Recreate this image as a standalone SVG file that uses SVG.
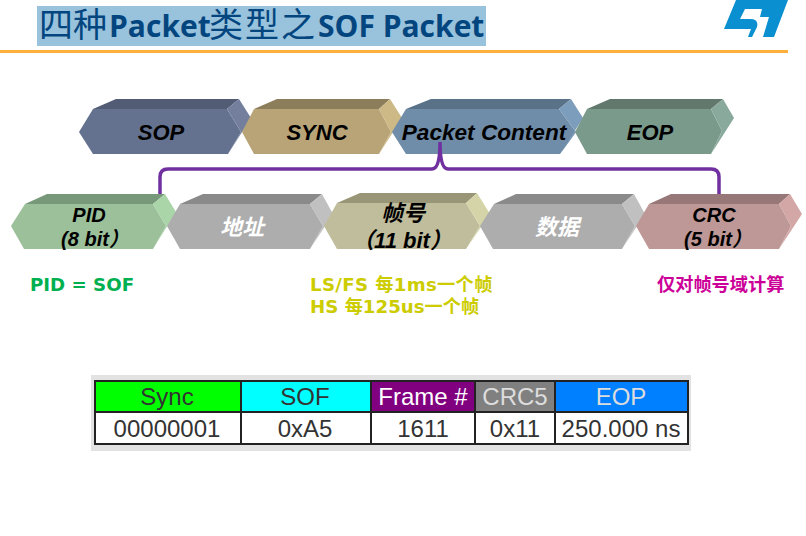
<svg xmlns="http://www.w3.org/2000/svg" width="806" height="536" viewBox="0 0 806 536">
<style>
text{font-family:"Liberation Sans","Noto Sans CJK SC",sans-serif}
.l{font-weight:bold;font-style:italic;text-anchor:middle;fill:#000}
.t{font-size:22px}.b{font-size:20px}.f{font-size:22px}
.w{fill:#fff;font-size:22px}
.n{font-family:"DejaVu Sans","Noto Sans CJK SC",sans-serif;font-weight:bold;font-size:18.2px}
.c{font-size:24px;text-anchor:middle;fill:#333}
.ttl{fill:#03467f;font-size:34px}
.ttb{font-family:"Open Sans","Noto Sans CJK SC",sans-serif;font-weight:bold;font-size:30px}
.cell{stroke:#222;stroke-width:2}
</style>
<g id="header">
<rect x="37" y="6" width="449" height="40" fill="#99c2dc"/>
<text class="ttl" x="39" y="37">四种<tspan class="ttb" x="109">Packet</tspan><tspan x="209" letter-spacing="2">类型之</tspan><tspan class="ttb" x="318">SOF Packet</tspan></text>
<rect x="0" y="50" width="788" height="3" fill="#fdb03c"/>
<path d="M736,0H788L774,37H763L769,17H760L762,9H745L740,19H750Q759,19 757,27L752,37H748L751,29H724Z" fill="#0a8fd0"/>
</g>
<g id="sop"><polygon points="79,132 93,109 227,109 241,132 228,154 93,154" fill="#64728f"/><polygon points="93,109 116,99 239,99 227,109" fill="#535c75"/><polygon points="227,109 239,99 251,118 228,154 241,132" fill="#737f9d"/><text class="l t" x="161" y="140">SOP</text></g>
<g id="sync"><polygon points="242,132 254,109 379,109 391,132 379,154 254,154" fill="#b8a477"/><polygon points="254,109 277,99 390,99 379,109" fill="#8c7e5b"/><polygon points="379,109 390,99 402,118 379,154 391,132" fill="#cdb985"/><text class="l t" x="317" y="140">SYNC</text></g>
<g id="packet-content"><polygon points="392,132 406,109 559,109 576,132 560,154 406,154" fill="#6f8ca8"/><polygon points="406,109 431,99 571,99 559,109" fill="#5a7288"/><polygon points="559,109 571,99 583,118 560,154 576,132" fill="#7c9dbc"/><text class="l" style="font-size:22.6px" x="484" y="140">Packet Content</text></g>
<g id="eop"><polygon points="575,132 587,109 711,109 722,131 711,154 587,154" fill="#7a9a8c"/><polygon points="587,109 610,99 723,99 711,109" fill="#62786c"/><polygon points="711,109 723,99 734,118 711,154 722,131" fill="#88a99b"/><text class="l t" x="650" y="140">EOP</text></g>
<g id="pid"><polygon points="11,226 25,204 153,204 166,226 153,249 24,249" fill="#9bc09a"/><polygon points="25,204 47,194 165,194 153,204" fill="#78987a"/><polygon points="153,204 165,194 176,212 153,249 166,226" fill="#aad5a9"/><text class="l b" x="89" y="222">PID</text><text class="l b" x="95" y="246">(8 bit）</text></g>
<g id="addr"><polygon points="167,226 180,204 310,204 323,226 310,249 180,249" fill="#adadad"/><polygon points="180,204 203,194 322,194 310,204" fill="#8a8a8a"/><polygon points="310,204 322,194 333,214 310,249 323,226" fill="#c0c0c0"/><text class="l w" x="242" y="235">地址</text></g>
<g id="frame"><polygon points="324,226 337,203 466,203 480,226 466,249 337,249" fill="#bfbd9b"/><polygon points="337,203 360,193 477,193 466,203" fill="#999678"/><polygon points="466,203 477,193 490,214 466,249 480,226" fill="#d5d4a8"/><text class="l f" x="403" y="221">帧号</text><text class="l f" x="402" y="248">（11 bit）</text></g>
<g id="data"><polygon points="480,226 494,204 622,204 635,226 622,249 493,249" fill="#adadad"/><polygon points="494,204 516,194 634,194 622,204" fill="#8a8a8a"/><polygon points="622,204 634,194 645,214 622,249 635,226" fill="#c0c0c0"/><text class="l w" x="557" y="235">数据</text></g>
<g id="crc"><polygon points="636,226 649,204 779,204 791,226 779,249 649,249" fill="#be9896"/><polygon points="649,204 671,194 790,194 779,204" fill="#977777"/><polygon points="779,204 790,194 802,214 779,249 791,226" fill="#d3a7a6"/><text class="l b" x="714" y="222">CRC</text><text class="l b" x="718" y="246">(5 bit）</text></g>
<g id="connectors"><path d="M160,194V177Q160,169 168,169H432Q440,169 440,142Q440,169 448,169H711Q719,169 719,177V194" fill="none" stroke="#7030a0" stroke-width="3.5"/></g>
<g id="notes">
<text class="n" x="30" y="291" fill="#00b050">PID = SOF</text>
<text class="n" x="310" y="291" fill="#cccc00" letter-spacing=".33">LS/FS 每1ms一个帧</text>
<text class="n" x="310" y="313" fill="#cccc00">HS 每125us一个帧</text>
<text class="n" x="657" y="291" fill="#cc0099">仅对帧号域计算</text>
</g>
<g id="table">
<rect x="91" y="375" width="600" height="76" fill="#e2e2e2"/>
<rect class="cell" x="95" y="381" width="146" height="31" fill="#00ff00"/>
<rect class="cell" x="241" y="381" width="130" height="31" fill="#00ffff"/>
<rect class="cell" x="371" y="381" width="104" height="31" fill="#800080"/>
<rect class="cell" x="475" y="381" width="80" height="31" fill="#808080"/>
<rect class="cell" x="555" y="381" width="133" height="31" fill="#0080ff"/>
<rect class="cell" x="95" y="412" width="146" height="32" fill="#fff"/>
<rect class="cell" x="241" y="412" width="130" height="32" fill="#fff"/>
<rect class="cell" x="371" y="412" width="104" height="32" fill="#fff"/>
<rect class="cell" x="475" y="412" width="80" height="32" fill="#fff"/>
<rect class="cell" x="555" y="412" width="133" height="32" fill="#fff"/>
<text class="c" x="167" y="405">Sync</text><text class="c" x="305" y="405">SOF</text><text class="c" x="423" y="405" style="fill:#fff">Frame #</text><text class="c" x="515" y="405" style="fill:#ddd">CRC5</text><text class="c" x="621" y="405" style="fill:#ddd">EOP</text>
<text class="c" x="167" y="437">00000001</text><text class="c" x="305" y="437">0xA5</text><text class="c" x="423" y="437">1611</text><text class="c" x="515" y="437">0x11</text><text class="c" x="621" y="437">250.000 ns</text>
</g>
</svg>
